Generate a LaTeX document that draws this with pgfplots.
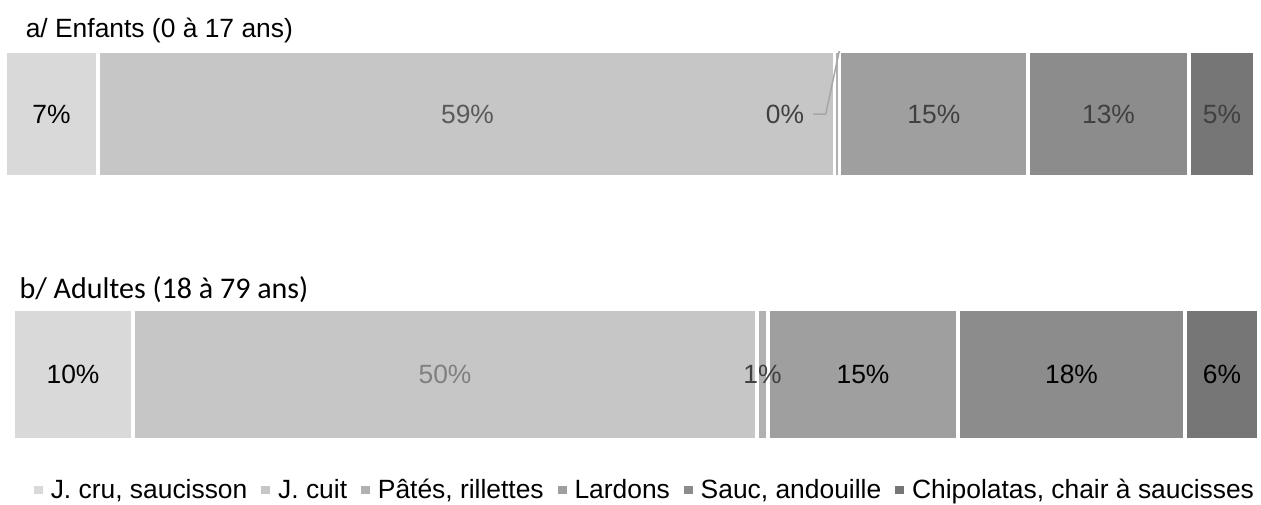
\documentclass[border=0pt]{standalone}
\usepackage{pgfplots}
\pgfplotsset{compat=1.18}
\usepackage{fontspec}
\setmainfont{Liberation Sans}
\newfontfamily\carlito{Carlito}

\definecolor{cru}{HTML}{D9D9D9}
\definecolor{cuit}{HTML}{C6C6C6}
\definecolor{pate}{HTML}{B1B1B1}
\definecolor{lard}{HTML}{9F9F9F}
\definecolor{sauc}{HTML}{8C8C8C}
\definecolor{chip}{HTML}{767676}
\definecolor{labmid}{HTML}{5A5A5A}
\definecolor{lablight}{HTML}{808080}
\definecolor{labdark}{HTML}{404040}
\definecolor{leader}{HTML}{A6A6A6}

\pgfplotsset{
  chartbase/.style={scale only axis, hide axis, anchor=north west,
    xmin=0, xmax=100, ymin=-0.5, ymax=0.5},
  seg/.style={fill=#1, draw=white, line width=1.6pt},
  % data labels: x = centre of the segment, meta = label
  lab/.style={only marks, mark=none, point meta=explicit symbolic,
    nodes near coords={\pgfplotspointmeta\%},
    every node near coord/.append style={anchor=center, text=#1,
      font=\fontsize{13.2}{15}\selectfont}},
}

\begin{document}
\begin{tikzpicture}
\path[use as bounding box] (0,0) rectangle (630.5pt,-252pt);

% a/ Enfants
\begin{axis}[chartbase, at={(2.5pt,-25.5pt)}, width=625pt, height=63pt,
  xbar stacked, bar width=63pt]
\addplot[seg=cru]  coordinates {(7.44,0)};
\addplot[seg=cuit] coordinates {(58.94,0)};
\addplot[seg=pate] coordinates {(0.40,0)};
\addplot[seg=lard] coordinates {(15.06,0)};
\addplot[seg=sauc] coordinates {(12.88,0)};
\addplot[seg=chip] coordinates {(5.28,0)};
\end{axis}
\begin{axis}[chartbase, at={(2.5pt,-25.5pt)}, width=625pt, height=63pt, clip=false]
\addplot[lab=black]   coordinates {(3.72,0) [7]};
\addplot[lab=labmid]  coordinates {(37.00,0) [59]};
\addplot[lab=labdark] coordinates {(62.40,0) [0] (74.31,0) [15] (88.28,0) [13] (97.36,0) [5]};
\draw[leader, line width=0.75pt] (axis cs:64.64,0) -- (axis cs:65.66,0) -- (axis cs:66.74,0.50);
\end{axis}

% b/ Adultes
\begin{axis}[chartbase, at={(6.5pt,-154.5pt)}, width=623pt, height=65.5pt,
  xbar stacked, bar width=65.5pt,
  legend style={at={(0.508,-0.382)}, anchor=center, draw=none, fill=none,
    legend columns=-1, font=\fontsize{13.2}{15}\selectfont,
    /tikz/every odd column/.append style={column sep=2pt},
    /tikz/every even column/.append style={column sep=5pt}},
  legend image code/.code={\fill[#1,draw=none] (0pt,-2.2pt) rectangle (4.4pt,2.2pt);}]
\addplot[seg=cru]  coordinates {(9.63,0)};
\addplot[seg=cuit] coordinates {(50.08,0)};
\addplot[seg=pate] coordinates {(0.89,0)};
\addplot[seg=lard] coordinates {(15.24,0)};
\addplot[seg=sauc] coordinates {(18.22,0)};
\addplot[seg=chip] coordinates {(5.94,0)};
\legend{{J. cru, saucisson}, J. cuit, {Pâtés, rillettes}, Lardons,
  {Sauc, andouille}, {Chipolatas, chair à saucisses}}
\end{axis}
\begin{axis}[chartbase, at={(6.5pt,-154.5pt)}, width=623pt, height=65.5pt, clip=false]
\addplot[lab=black]    coordinates {(4.82,0) [10] (68.22,0) [15] (84.95,0) [18] (97.03,0) [6]};
\addplot[lab=lablight] coordinates {(34.67,0) [50]};
\addplot[lab=labdark]  coordinates {(60.15,0) [1]};
\end{axis}

\node[anchor=base west, inner sep=0pt, font=\fontsize{13.2}{15}\selectfont]
  at (12.7pt,-18.75pt) {a/ Enfants (0 à 17 ans)};
\node[anchor=base west, inner sep=0pt, font=\carlito\fontsize{15}{18}\selectfont]
  at (9.6pt,-149pt) {b/ Adultes (18 à 79 ans)};
\end{tikzpicture}
\end{document}
